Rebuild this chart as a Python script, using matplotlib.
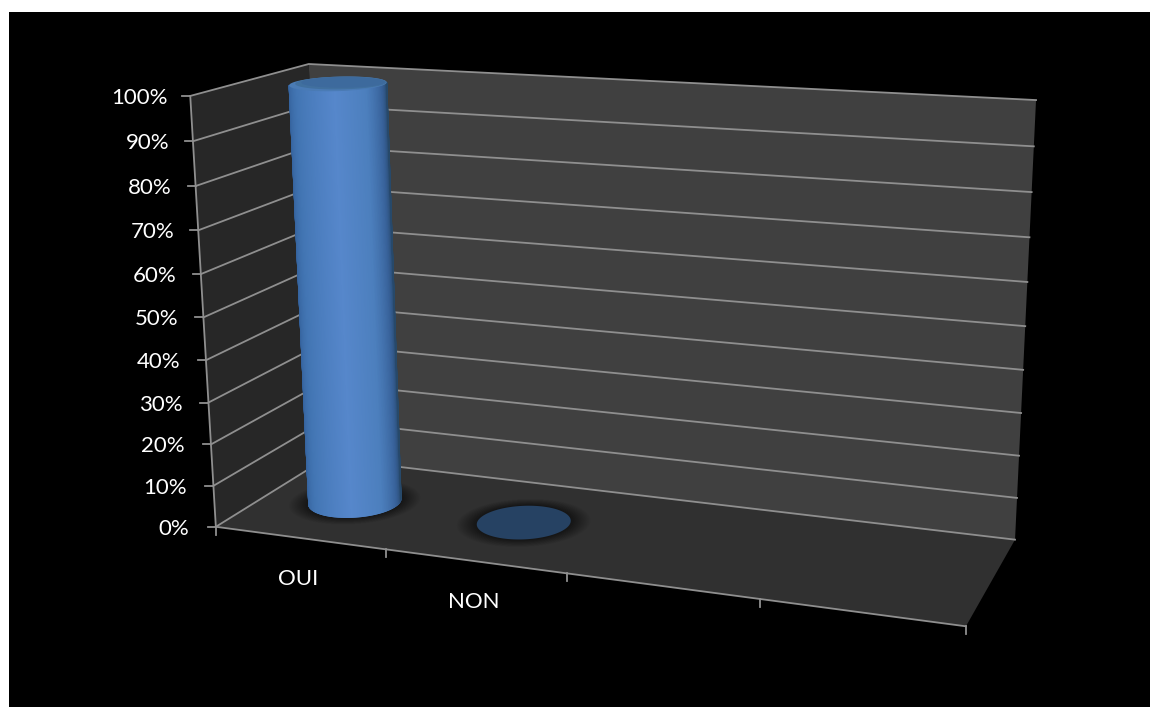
import numpy as np
import matplotlib
matplotlib.use("Agg")
import matplotlib.pyplot as plt
from matplotlib.collections import PolyCollection
from matplotlib.colors import to_rgb
from matplotlib.patches import Polygon, Rectangle

categories = ["OUI", "NON"]
values = [100, 0]
value_ticks = [0, 10, 20, 30, 40, 50, 60, 70, 80, 90, 100]
n_slots = 4

# Camera calibration: box corners (x, y, z) and where they land on the canvas.
box_corners = np.array([
    [0, 0, 0], [0, 1, 0], [0, 1, 1], [0, 0, 1],
    [1, 1, 1], [1, 0, 1], [1, 0, 0],
], dtype=float)
canvas_corners = np.array([
    [216, 527], [190, 96], [309, 64], [326, 458],
    [1036, 100], [1015, 540], [966, 626],
], dtype=float)


def fit_camera(world, image):
    rows = []
    for (x, y, z), (u, v) in zip(world, image):
        rows.append([x, y, z, 1, 0, 0, 0, 0, -u * x, -u * y, -u * z, -u])
        rows.append([0, 0, 0, 0, x, y, z, 1, -v * x, -v * y, -v * z, -v])
    return np.linalg.svd(np.array(rows))[2][-1].reshape(3, 4)


CAMERA = fit_camera(box_corners, canvas_corners)


def project(x, y, z):
    x, y, z = np.broadcast_arrays(np.asarray(x, float), np.asarray(y, float), np.asarray(z, float))
    pts = CAMERA @ np.stack([x.ravel(), y.ravel(), z.ravel(), np.ones(x.size)])
    return np.column_stack([pts[0] / pts[2], pts[1] / pts[2]])


def ramp(stops, t):
    pos = [s[0] for s in stops]
    rgb = np.array([to_rgb(s[1]) for s in stops])
    return tuple(np.interp(t, pos, rgb[:, k]) for k in range(3))


def front_arc(ring, n):
    """Resample the lower (viewer-side) half of a projected ring, left to right."""
    pts = ring[:-1]
    left, right = pts[:, 0].argmin(), pts[:, 0].argmax()
    centre_y = pts[:, 1].mean()
    k = len(pts)
    walk_a = [(left + j) % k for j in range((right - left) % k + 1)]
    walk_b = [(left - j) % k for j in range((left - right) % k + 1)]
    walk = walk_a if pts[walk_a, 1].mean() > centre_y else walk_b
    arc = pts[walk]
    frac = np.linspace(0, 1, n)
    src = np.linspace(0, 1, len(arc))
    return np.column_stack([np.interp(frac, src, arc[:, 0]), np.interp(frac, src, arc[:, 1])])


fig = plt.figure(figsize=(11.5, 7.07), dpi=100, facecolor="white")
ax = fig.add_axes([0, 0, 1, 1])
ax.set_xlim(0, 1150)
ax.set_ylim(707, 0)
ax.axis("off")
ax.add_patch(Rectangle((9, 12), 1141, 695, color="black", lw=0, zorder=0))

GRID = "#8f8f8f"
FONT = "Lato"
SIZE = 16

# Walls and floor
ax.add_patch(Polygon(project([0, 0, 0, 0], [0, 1, 1, 0], [0, 0, 1, 1]), color="#272727", lw=0, zorder=1))
ax.add_patch(Polygon(project([0, 1, 1, 0], [0, 0, 1, 1], [1, 1, 1, 1]), color="#404040", lw=0, zorder=1))
ax.add_patch(Polygon(project([0, 1, 1, 0], [0, 0, 0, 0], [0, 0, 1, 1]), color="#303030", lw=0, zorder=2))

# Gridlines, value ticks and value labels
for v in value_ticks:
    y = v / 100
    path = project([0, 0, 1], [y, y, y], [0, 1, 1])
    ax.plot(path[:, 0], path[:, 1], color=GRID, lw=1.3, zorder=3, solid_joinstyle="miter")
    px, py = project(0, y, 0)[0]
    ax.plot([px - 8, px], [py, py], color=GRID, lw=1.3, zorder=3)
    ax.text(px - 27 + 4 * y, py + 2, f"{v}%", color="white", fontsize=SIZE, family=FONT,
            ha="right", va="center", zorder=8)

# Axis edges and category ticks
edge = project([0, 0], [0, 1], [0, 0])
ax.plot(edge[:, 0], edge[:, 1], color=GRID, lw=1.3, zorder=3)
edge = project([0, 1], [0, 0], [0, 0])
ax.plot(edge[:, 0], edge[:, 1], color=GRID, lw=1.3, zorder=3)
for i in range(n_slots + 1):
    px, py = project(i / n_slots, 0, 0)[0]
    ax.plot([px, px], [py, py + 8], color=GRID, lw=1.3, zorder=3)

for i, name in enumerate(categories):
    px, py = project((i + 0.5) / n_slots, 0, 0)[0]
    ax.text(px - 2, py + 29 + 12, name, color="white", fontsize=SIZE, family=FONT,
            ha="center", va="center", zorder=8)

# Cylinders
RX, RZ = 0.0615, 0.215
theta = np.linspace(0, 2 * np.pi, 361)
body_stops = [(0.0, "#33609a"), (0.18, "#4275b3"), (0.48, "#5687cb"), (0.7, "#4c7fbd"),
              (0.86, "#38629a"), (1.0, "#274869")]

for i, v in enumerate(values):
    cx = (i + 0.5) / n_slots + 0.001
    cz = 0.5
    top = v / 100

    # Soft contact shadow on the floor
    for s in np.linspace(1.42, 1.02, 14):
        ring = project(cx + s * RX * np.cos(theta), 0, cz + s * RZ * np.sin(theta))
        ax.add_patch(Polygon(ring, color="black", alpha=0.04, lw=0, zorder=4))

    if v > 0:
        # Curved side: narrow facets spanning the visible arc, shaded left to right
        n = 160
        low = front_arc(project(cx + RX * np.cos(theta), 0, cz + RZ * np.sin(theta)), n)
        high = front_arc(project(cx + RX * np.cos(theta), top, cz + RZ * np.sin(theta)), n)
        facets, colors = [], []
        for k in range(n - 1):
            facets.append([low[k], low[k + 1], high[k + 1], high[k]])
            colors.append(ramp(body_stops, (k + 0.5) / (n - 1)))
        ax.add_collection(PolyCollection(facets, facecolors=colors, edgecolors=colors,
                                         linewidths=0.8, zorder=5))
        # End cap with a bevelled rim
        rim = project(cx + RX * np.cos(theta), top, cz + RZ * np.sin(theta))
        ax.add_patch(Polygon(rim, color="#4a7bb5", lw=0, zorder=6))
        inner = project(cx + 0.96 * RX * np.cos(theta), top, cz + 0.86 * RZ * np.sin(theta) + 0.025)
        ax.add_patch(Polygon(inner, color="#41709f", lw=0, zorder=6))
        cap = project(cx + 0.9 * RX * np.cos(theta), top, cz + 0.72 * RZ * np.sin(theta) + 0.045)
        ax.add_patch(Polygon(cap, color="#3d6a9d", lw=0, zorder=6))
    else:
        disc = project(cx + RX * np.cos(theta), top, cz + RZ * np.sin(theta))
        ax.add_patch(Polygon(disc, color="#264263", lw=0, zorder=6))

fig.savefig("out.png", dpi=100, facecolor="white")
